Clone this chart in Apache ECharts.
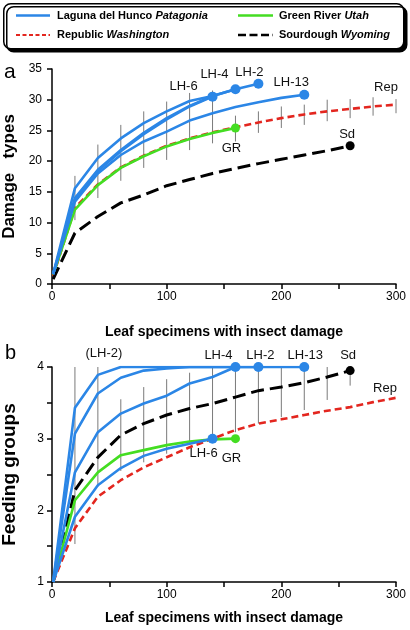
<!DOCTYPE html>
<html><head><meta charset="utf-8">
<script src="https://cdn.jsdelivr.net/npm/echarts@6/dist/echarts.min.js"></script>
<style>html,body{margin:0;padding:0;background:#fff}#c{width:410px;height:630px}</style>
</head><body><div id="c"></div><script>
// ---- data ----
const xs = [1,20,40,60,80,100,120,140,160,180,200,220,240,260,280,300];
// panel a: damage types
const lh2A  = [1.6,15.6,20.5,23.7,26.2,28.1,29.8,30.6,31.7,32.6];
const lh4A  = [1.6,14.0,18.6,21.8,24.6,27.0,29.0,30.6,31.7];
const lh6A  = [1.6,13.8,18.4,21.6,24.4,26.8,28.9,30.5];
const lh13A = [1.6,13.4,18.0,21.0,23.2,24.8,26.6,27.8,28.8,29.6,30.3,30.8];
const grA   = [1.5,12.1,16.1,18.9,20.8,22.4,23.6,24.6,25.4];
const repA  = [1.3,12.4,16.2,19.0,20.9,22.5,23.7,24.7,25.5,26.3,27.0,27.6,28.1,28.5,28.9,29.2];
const sdA   = [0.8,8.3,11.0,13.2,14.5,16.0,17.0,18.0,18.8,19.6,20.3,21.0,21.7,22.5];
const barXA = [20,40,60,80,100,120,140,160,180,200,220,240,260,280,300];
const barLoA = [10.4,14.0,16.8,18.9,20.2,21.8,22.9,23.2,24.6,25.4,25.9,26.5,27.0,27.4,27.8];
const barHiA = [17.6,22.7,25.9,28.1,29.7,31.1,31.5,27.4,28.1,28.9,29.2,30.0,30.1,30.4,30.1];
// panel b: feeding groups
const lh2B  = [1.0,3.43,3.89,4.0,4.0,4.0,4.0,4.0,4.0,4.0];
const lh13B = [1.0,3.07,3.63,3.85,3.95,3.98,4.0,4.0,4.0,4.0,4.0,4.0];
const lh4B  = [1.0,2.53,3.09,3.35,3.49,3.60,3.77,3.86,4.0];
const lh6B  = [1.0,1.91,2.35,2.59,2.76,2.86,2.93,3.0];
const grB   = [1.0,2.14,2.53,2.77,2.84,2.91,2.96,2.99,3.0];
const repB  = [1.0,1.75,2.19,2.42,2.60,2.74,2.88,3.0,3.12,3.21,3.27,3.33,3.39,3.44,3.51,3.57];
const sdB   = [1.0,2.28,2.74,3.05,3.21,3.33,3.42,3.49,3.58,3.67,3.72,3.78,3.86,3.95];
const barXB = [20,40,60,80,100,120,140,160,180,200,220,240,260];
const barLoB = [1.53,2.33,2.55,2.67,2.79,2.93,3.0,3.09,3.21,3.30,3.40,3.54,3.74];
const barHiB = [4.0,4.0,3.55,3.72,3.83,3.92,4.0,4.0,4.0,4.0,4.0,4.0,3.95];
const xTicks = [0,100,200,300];

// ---- styles ----
const FONT = '"Liberation Sans", Arial, Helvetica, sans-serif';
const BLUE = '#2b86e6', GREEN = '#44dd22', RED = '#e3261f', BLACK = '#000';
const blueS = {color: BLUE, width: 2.6, type: 'solid'};
const greenS = {color: GREEN, width: 2.6, type: 'solid'};
const redS = {color: RED, width: 2.6, type: [7, 4]};
const blackS = {color: BLACK, width: 3, type: [13, 6]};

function lbl(text, off) {
  return {show: true, position: 'inside', offset: off, formatter: text,
          fontSize: 13, color: '#111', fontFamily: FONT};
}
function mkLine(vals, ax, style, color, marker, labels, z) {
  const last = vals.length - 1;
  const data = vals.map((v, i) => {
    const it = {value: [xs[i], v]};
    if (i === last && marker) { it.symbol = 'circle'; it.symbolSize = marker; }
    if (labels && labels[i]) {
      it.label = labels[i];
      if (!(i === last && marker)) { it.symbol = 'circle'; it.symbolSize = 0.01; }
    }
    return it;
  });
  return {type: 'line', xAxisIndex: ax, yAxisIndex: ax, data, symbol: 'none',
          showAllSymbol: true, lineStyle: style, itemStyle: {color, opacity: 1},
          z: z, silent: true, animation: false};
}
function mkBars(xv, lo, hi, ax) {
  return {type: 'custom', xAxisIndex: ax, yAxisIndex: ax, z: 1, silent: true, animation: false,
    data: xv.map((x, i) => [x, lo[i], hi[i]]),
    encode: {x: 0, y: [1, 2]},
    renderItem: (p, api) => {
      const a = api.coord([api.value(0), api.value(1)]);
      const b = api.coord([api.value(0), api.value(2)]);
      return {type: 'line', shape: {x1: a[0], y1: a[1], x2: b[0], y2: b[1]},
              style: {stroke: '#7a7a7a', lineWidth: 1}};
    }};
}

const axisCommon = {
  axisLine: {lineStyle: {color: '#000', width: 1.5}},
  axisTick: {length: 5, lineStyle: {color: '#000', width: 1.5}},
  splitLine: {show: false},
};
function xAx(idx, gap) {
  return Object.assign({}, axisCommon, {
    type: 'value', gridIndex: idx, min: 0, max: 300, interval: 50,
    axisLabel: {formatter: v => xTicks.includes(v) ? String(v) : '', fontSize: 12,
                color: '#000', margin: 7, fontFamily: FONT},
    name: 'Leaf specimens with insect damage', nameLocation: 'middle', nameGap: gap,
    nameTextStyle: {fontWeight: 'bold', fontSize: 14, color: '#000', fontFamily: FONT}
  });
}

const chart = echarts.init(document.getElementById('c'));
const L = (t, o) => lbl(t, o);
chart.setOption({
  animation: false,
  backgroundColor: '#fff',
  grid: [
    {left: 52, right: 14, top: 69, height: 215, containLabel: false, outerBoundsMode: 'none'},
    {left: 52, right: 14, top: 367, height: 215, containLabel: false, outerBoundsMode: 'none'}
  ],
  xAxis: [xAx(0, 41), xAx(1, 29)],
  yAxis: [
    Object.assign({}, axisCommon, {type: 'value', gridIndex: 0, min: 0, max: 35, interval: 5,
      axisLabel: {fontSize: 12, color: '#000', margin: 10, fontFamily: FONT},
      name: 'Damage   types', nameLocation: 'middle', nameGap: 28,
      nameTextStyle: {fontWeight: 'bold', fontSize: 17, color: '#000', fontFamily: FONT}}),
    Object.assign({}, axisCommon, {type: 'value', gridIndex: 1, min: 1, max: 4, interval: 0.5,
      axisLabel: {formatter: v => Number.isInteger(v) ? String(v) : '', fontSize: 12,
                  color: '#000', margin: 8, fontFamily: FONT},
      name: 'Feeding groups', nameLocation: 'middle', nameGap: 33,
      nameTextStyle: {fontWeight: 'bold', fontSize: 19, color: '#000', fontFamily: FONT}})
  ],
  series: [
    mkBars(barXA, barLoA, barHiA, 0),
    mkLine(repA, 0, redS, RED, 0, {15: L('Rep', [-10, -17])}, 2),
    mkLine(grA, 0, greenS, GREEN, 9, {8: L('GR', [-4, 20])}, 3),
    mkLine(sdA, 0, blackS, BLACK, 9, {13: L('Sd', [-3, -11])}, 3),
    mkLine(lh13A, 0, blueS, BLUE, 10, {11: L('LH-13', [-13, -12])}, 4),
    mkLine(lh6A, 0, blueS, BLUE, 10, {7: L('LH-6', [-29, -10])}, 4),
    mkLine(lh4A, 0, blueS, BLUE, 10, {8: L('LH-4', [-21, -15])}, 4),
    mkLine(lh2A, 0, blueS, BLUE, 10, {9: L('LH-2', [-9, -11])}, 4),

    mkBars(barXB, barLoB, barHiB, 1),
    mkLine(repB, 1, redS, RED, 0, {15: L('Rep', [-11, -9])}, 2),
    mkLine(sdB, 1, blackS, BLACK, 9, {13: L('Sd', [-2, -15])}, 3),
    mkLine(grB, 1, greenS, GREEN, 9, {8: L('GR', [-4, 20])}, 3),
    mkLine(lh6B, 1, blueS, BLUE, 10, {7: L('LH-6', [-9, 15])}, 4),
    mkLine(lh4B, 1, blueS, BLUE, 10, {8: L('LH-4', [-17, -12])}, 4),
    mkLine(lh13B, 1, blueS, BLUE, 10, {11: L('LH-13', [1, -12])}, 4),
    mkLine(lh2B, 1, blueS, BLUE, 10, {2: L('(LH-2)', [6, -21]), 9: L('LH-2', [2, -12])}, 4)
  ],
  graphic: [
    {type: 'rect', left: 3, top: 3, z: 0, shape: {width: 400, height: 45, r: 7},
     style: {fill: '#fff', stroke: '#000', lineWidth: 1.5,
             shadowColor: '#000', shadowOffsetX: 3, shadowOffsetY: 3, shadowBlur: 0}},
    {type: 'line', shape: {x1: 16, y1: 15.5, x2: 50, y2: 15.5}, style: {stroke: BLUE, lineWidth: 2.6}},
    {type: 'line', shape: {x1: 238, y1: 15.5, x2: 273, y2: 15.5}, style: {stroke: GREEN, lineWidth: 2.6}},
    {type: 'line', shape: {x1: 16, y1: 35, x2: 50, y2: 35}, style: {stroke: RED, lineWidth: 2, lineDash: [4, 2.5]}},
    {type: 'line', shape: {x1: 238, y1: 35, x2: 273, y2: 35}, style: {stroke: BLACK, lineWidth: 2.6, lineDash: [8, 3.5]}},
    {type: 'text', left: 57, top: 10, style: {text: '{b|Laguna del Hunco }{i|Patagonia}',
      rich: {b: {fontWeight: 'bold', fontSize: 11, fontFamily: FONT}, i: {fontWeight: 'bold', fontStyle: 'italic', fontSize: 11, fontFamily: FONT}}}},
    {type: 'text', left: 279, top: 10, style: {text: '{b|Green River }{i|Utah}',
      rich: {b: {fontWeight: 'bold', fontSize: 11, fontFamily: FONT}, i: {fontWeight: 'bold', fontStyle: 'italic', fontSize: 11, fontFamily: FONT}}}},
    {type: 'text', left: 57, top: 29, style: {text: '{b|Republic }{i|Washington}',
      rich: {b: {fontWeight: 'bold', fontSize: 11, fontFamily: FONT}, i: {fontWeight: 'bold', fontStyle: 'italic', fontSize: 11, fontFamily: FONT}}}},
    {type: 'text', left: 279, top: 29, style: {text: '{b|Sourdough }{i|Wyoming}',
      rich: {b: {fontWeight: 'bold', fontSize: 11, fontFamily: FONT}, i: {fontWeight: 'bold', fontStyle: 'italic', fontSize: 11, fontFamily: FONT}}}},
    {type: 'text', left: 4, top: 62, style: {text: 'a', fontSize: 21, fontFamily: FONT, fill: '#000'}},
    {type: 'text', left: 5, top: 343, style: {text: 'b', fontSize: 20, fontFamily: FONT, fill: '#000'}}
  ]
});
</script></body></html>
